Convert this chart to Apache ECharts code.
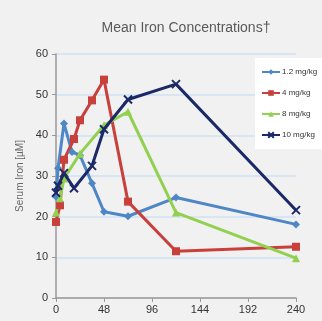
<!DOCTYPE html>
<html><head><meta charset="utf-8">
<script src="https://cdn.jsdelivr.net/npm/echarts@6/dist/echarts.min.js"></script>
<style>html,body{margin:0;padding:0;background:#f1f1f1}#c{width:322px;height:321px}</style>
</head><body><div id="c"></div>
<script>
const title = 'Mean Iron Concentrations†';
const yName = 'Serum Iron [µM]';
const xTicks = [0, 48, 96, 144, 192, 240];
const seriesNames = ['1.2 mg/kg', '4 mg/kg', '8 mg/kg', '10 mg/kg'];
const t12 = [0, 2, 8, 16, 24, 36, 48, 72, 120, 240];
const v12 = [24.9, 31.9, 42.9, 35.9, 35.1, 28.2, 21.2, 20.1, 24.7, 18.1];
const t4 = [0, 4, 8, 18, 24, 36, 48, 72, 120, 240];
const v4 = [18.7, 22.8, 34.0, 39.1, 43.7, 48.6, 53.7, 23.7, 11.5, 12.6];
const t8 = [0, 4, 8, 24, 48, 72, 120, 240];
const v8 = [21.0, 24.5, 29.4, 35.5, 42.5, 45.8, 21.0, 9.8];
const t10 = [0, 2, 8, 18, 36, 48, 72, 120, 240];
const v10 = [25.9, 27.6, 30.7, 27.0, 32.5, 41.5, 48.8, 52.6, 21.6];

const font = '"Liberation Sans Narrow","Liberation Sans",Arial,sans-serif';
const colors = ['#4f87c6', '#c8403c', '#92d050', '#1b2a66'];
const symbols = ['diamond', 'rect', 'triangle', 'path://M0,0L10,10M10,0L0,10'];
const sizes = [8, 8, 8, 8];
const times = [t12, t4, t8, t10];
const vals = [v12, v4, v8, v10];

const chart = echarts.init(document.getElementById('c'));
chart.setOption({
  backgroundColor: '#f1f1f1',
  animation: false,
  title: {text: title, left: 181, top: 16, textAlign: 'center',
    textStyle: {fontFamily: font, fontSize: 14, fontWeight: 'normal', color: '#595959'}},
  grid: {left: 56, right: 26, top: 54, bottom: 23},
  legend: {orient: 'vertical', left: 255, top: 58, backgroundColor: '#ffffff',
    padding: [10, 6, 10, 6], itemWidth: 18, itemHeight: 7, itemGap: 13,
    textStyle: {fontFamily: font, fontSize: 8, color: '#333', padding: [0, 0, 0, -3]},
    data: seriesNames},
  xAxis: {type: 'value', min: 0, max: 240, interval: 48,
    axisLine: {lineStyle: {color: '#999', width: 1.5}},
    axisTick: {show: true, length: 4, lineStyle: {color: '#999'}},
    splitLine: {show: false},
    axisLabel: {fontFamily: font, fontSize: 11, color: '#333', margin: 6,
      formatter: v => xTicks.includes(v) ? String(v) : ''}},
  yAxis: {type: 'value', min: 0, max: 60, interval: 10,
    name: yName, nameLocation: 'middle', nameGap: 26,
    nameTextStyle: {fontFamily: font, fontSize: 10, color: '#666'},
    axisLine: {show: true, lineStyle: {color: '#999', width: 1.5}},
    axisTick: {show: true, length: 4, lineStyle: {color: '#999'}},
    splitLine: {lineStyle: {color: '#cfe2f3', width: 1.5}},
    axisLabel: {fontFamily: font, fontSize: 11, color: '#333', margin: 8}},
  series: seriesNames.map((n, i) => ({
    name: n, type: 'line',
    data: times[i].map((t, j) => [t, vals[i][j]]),
    symbol: symbols[i], symbolSize: sizes[i],
    lineStyle: {color: colors[i], width: 3},
    itemStyle: {color: colors[i], borderColor: colors[i], borderWidth: i === 3 ? 2 : 0},
    z: i === 3 ? 5 : 2
  }))
});
</script></body></html>
